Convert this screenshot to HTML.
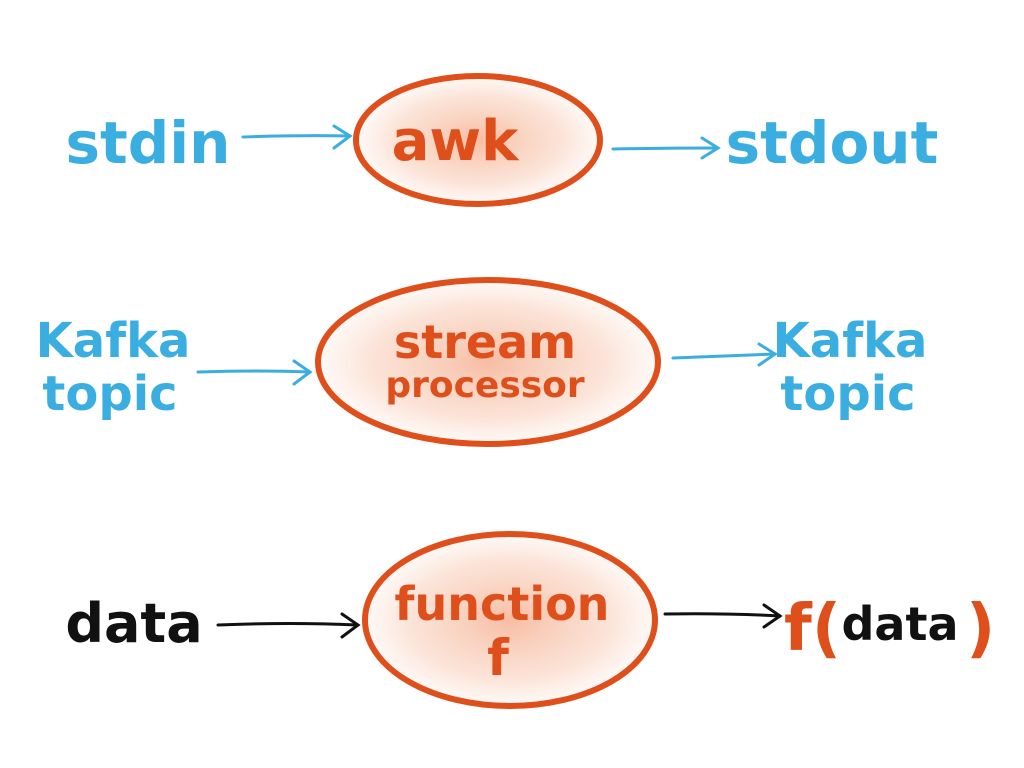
<!DOCTYPE html>
<html><head><meta charset="utf-8"><style>
html,body{margin:0;padding:0;background:#fff;}
svg{display:block;}
text{font-family:"DejaVu Sans","Liberation Sans",sans-serif;font-weight:bold;}
</style></head><body>
<svg width="1024" height="768" viewBox="0 0 1024 768" xmlns="http://www.w3.org/2000/svg">
<defs>
<radialGradient id="g" cx="50%" cy="50%" r="50%">
<stop offset="0%" stop-color="#f4a784" stop-opacity="0.75"/>
<stop offset="70%" stop-color="#f8c9b2" stop-opacity="0.5"/>
<stop offset="100%" stop-color="#fde9df" stop-opacity="0.3"/>
</radialGradient>
</defs>
<g fill="none" stroke-linecap="round">
<ellipse cx="478" cy="140" rx="122" ry="64" fill="url(#g)" stroke="#df4f1c" stroke-width="6"/>
<path d="M243 137 Q300 135 350 136" stroke="#3aaee0" stroke-width="3"/>
<path d="M334 126 L350 136 L334 148" stroke="#3aaee0" stroke-width="3"/>
<path d="M613 149 Q670 148 718 148" stroke="#3aaee0" stroke-width="3"/>
<path d="M702 138 L718 148 L702 158" stroke="#3aaee0" stroke-width="3"/>
<ellipse cx="488" cy="362" rx="170" ry="82" fill="url(#g)" stroke="#df4f1c" stroke-width="6"/>
<path d="M198 372 Q260 370 310 372" stroke="#3aaee0" stroke-width="3"/>
<path d="M294 361 L310 372 L294 384" stroke="#3aaee0" stroke-width="3"/>
<path d="M673 358 Q725 356 775 354" stroke="#3aaee0" stroke-width="3"/>
<path d="M759 344 L775 354 L759 365" stroke="#3aaee0" stroke-width="3"/>
<ellipse cx="510" cy="620" rx="145" ry="86" fill="url(#g)" stroke="#df4f1c" stroke-width="6"/>
<path d="M218 625 Q290 622 358 625" stroke="#111" stroke-width="3"/>
<path d="M342 614 L358 625 L342 637" stroke="#111" stroke-width="3"/>
<path d="M665 614 Q725 613 780 616" stroke="#111" stroke-width="3"/>
<path d="M764 605 L780 616 L764 627" stroke="#111" stroke-width="3"/>
</g>
<g fill="#3aaee0">
<text x="148" y="163" font-size="58" text-anchor="middle">stdin</text>
<text x="832" y="163" font-size="58" text-anchor="middle">stdout</text>
<text x="113" y="357" font-size="48" text-anchor="middle">Kafka</text>
<text x="110" y="410" font-size="48" text-anchor="middle">topic</text>
<text x="850" y="357" font-size="48" text-anchor="middle">Kafka</text>
<text x="848" y="410" font-size="48" text-anchor="middle">topic</text>
</g>
<g fill="#df4f1c">
<text x="455" y="160" font-size="56" text-anchor="middle">awk</text>
<text x="485" y="358" font-size="46" text-anchor="middle">stream</text>
<text x="485" y="397" font-size="36" text-anchor="middle">processor</text>
<text x="502" y="620" font-size="46" text-anchor="middle">function</text>
<text x="498" y="675" font-size="50" text-anchor="middle">f</text>
<text x="784" y="650" font-size="64">f(</text>
<text x="966" y="650" font-size="64">)</text>
</g>
<g fill="#111">
<text x="134" y="642" font-size="54" text-anchor="middle">data</text>
<text x="900" y="640" font-size="46" text-anchor="middle">data</text>
</g>
</svg>
</body></html>
